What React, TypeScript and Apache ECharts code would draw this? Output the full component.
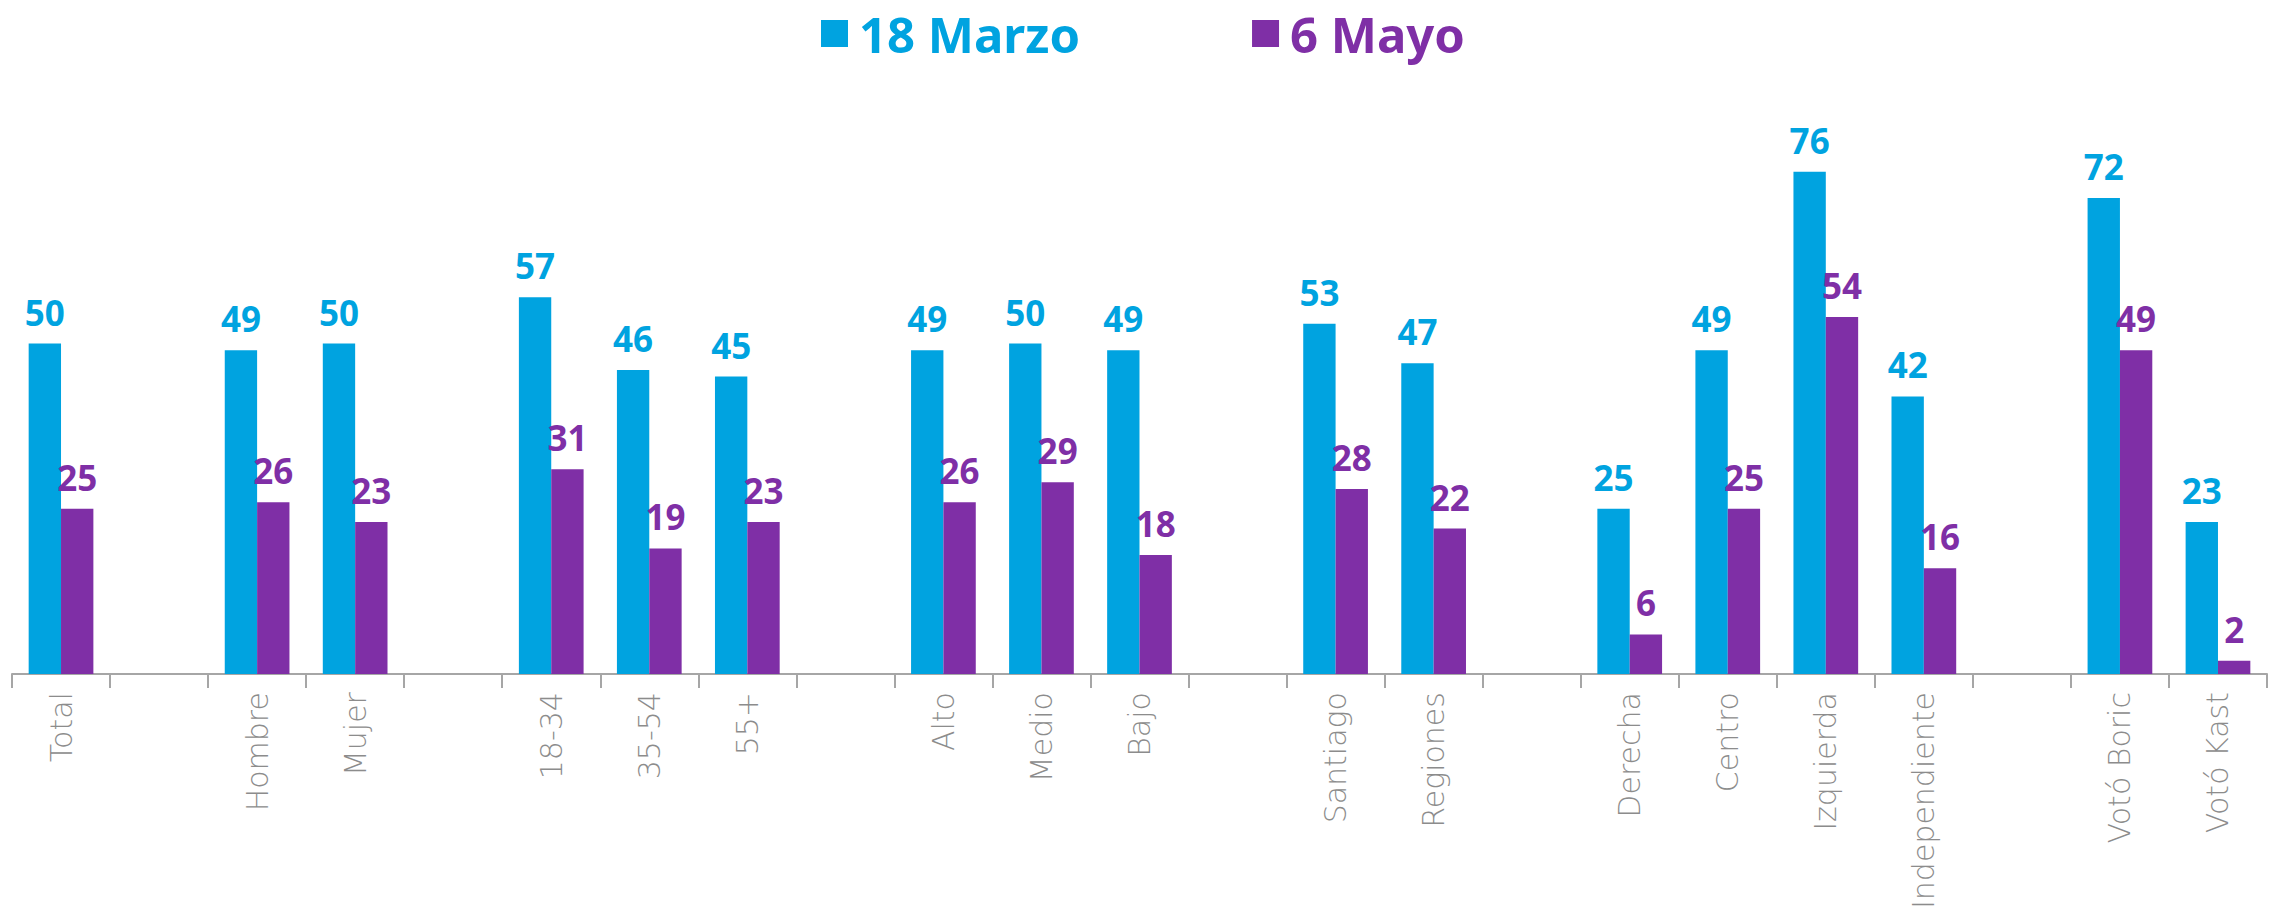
import React, { useEffect, useRef } from "react";
import * as echarts from "echarts";

const categories = [
  "Total", "", "Hombre", "Mujer", "", "18-34", "35-54", "55+", "",
  "Alto", "Medio", "Bajo", "", "Santiago", "Regiones", "",
  "Derecha", "Centro", "Izquierda", "Independiente", "", "Votó Boric", "Votó Kast",
];
const marzo = [
  50, null, 49, 50, null, 57, 46, 45, null,
  49, 50, 49, null, 53, 47, null,
  25, 49, 76, 42, null, 72, 23,
];
const mayo = [
  25, null, 26, 23, null, 31, 19, 23, null,
  26, 29, 18, null, 28, 22, null,
  6, 25, 54, 16, null, 49, 2,
];
const seriesNames = ["18 Marzo", "6 Mayo"];
const BLUE = "#00A3E0";
const PURPLE = "#7F2FA6";
const FONT = "'Noto Sans', 'DejaVu Sans', sans-serif";

export default function App() {
  const ref = useRef<HTMLDivElement>(null);
  useEffect(() => {
    document.body.style.margin = "0";
    const chart = echarts.init(ref.current!, null, { renderer: "svg" });
    const valueLabel = (color: string) => ({
      show: true,
      position: "top",
      distance: 14,
      color,
      fontSize: 35,
      fontWeight: "bold",
      fontFamily: FONT,
    });
    chart.setOption({
      animation: false,
      legend: {
        left: 816,
        top: 4,
        itemWidth: 27,
        itemHeight: 27,
        itemGap: 172,
        icon: "rect",
        data: [
          { name: seriesNames[0], textStyle: { color: BLUE } },
          { name: seriesNames[1], textStyle: { color: PURPLE } },
        ],
        textStyle: {
          fontSize: 49,
          fontWeight: "bold",
          fontFamily: FONT,
          padding: [0, 0, 0, 6],
        },
      },
      grid: { left: 12, right: 15, top: 13, bottom: 235 },
      xAxis: {
        type: "category",
        data: categories,
        axisLine: { lineStyle: { color: "#a6a6a6", width: 2 } },
        axisTick: { show: true, length: 14, lineStyle: { color: "#a6a6a6", width: 2 } },
        axisLabel: {
          rotate: 90,
          interval: 0,
          margin: 18,
          color: "#8c8c8c",
          fontSize: 30,
          fontFamily: "'DejaVu Sans', sans-serif",
          fontWeight: 200,
        },
      },
      yAxis: { type: "value", min: 0, max: 100, show: false, splitLine: { show: false } },
      series: [
        {
          name: seriesNames[0],
          type: "bar",
          data: marzo,
          itemStyle: { color: BLUE },
          barGap: "0%",
          barCategoryGap: "34%",
          label: valueLabel(BLUE),
        },
        {
          name: seriesNames[1],
          type: "bar",
          data: mayo,
          itemStyle: { color: PURPLE },
          barGap: "0%",
          barCategoryGap: "34%",
          label: valueLabel(PURPLE),
        },
      ],
    });
    return () => chart.dispose();
  }, []);
  return (
    <div
      ref={ref}
      style={{ position: "absolute", left: 0, top: 0, width: 2282, height: 912, background: "#fff" }}
    />
  );
}
